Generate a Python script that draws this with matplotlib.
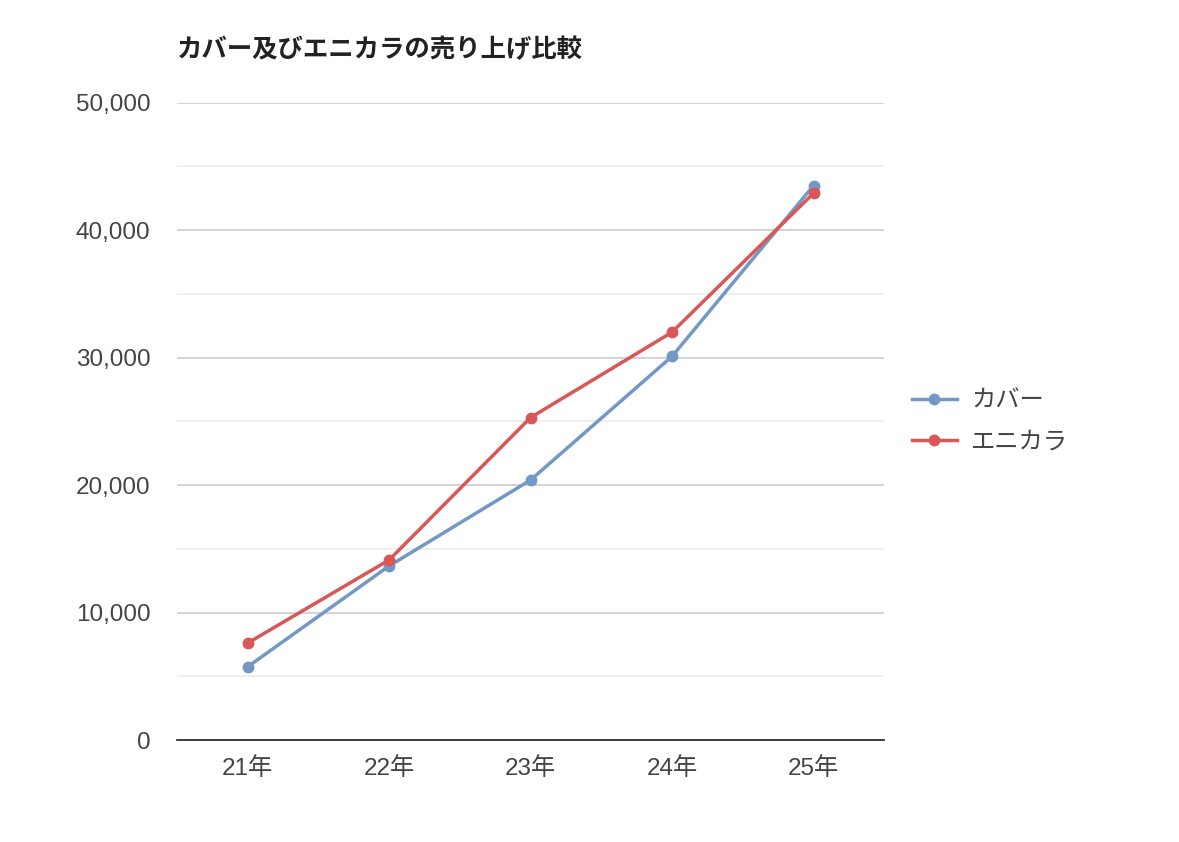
import matplotlib.pyplot as plt
from matplotlib.ticker import FuncFormatter, MultipleLocator

plt.rcParams['font.family'] = ['Liberation Sans', 'Noto Sans CJK JP', 'DejaVu Sans']

years = ["21年", "22年", "23年", "24年", "25年"]
cover = [5750, 13660, 20400, 30100, 43500]
enikara = [7610, 14130, 25300, 32000, 42900]

blue = "#7398C5"
red = "#D95757"

fig = plt.figure(figsize=(11.79, 8.42), dpi=100)
ax = fig.add_axes([0.150, 0.121, 0.600, 0.757])

x = range(len(years))
ax.plot(x, cover, color=blue, lw=2.5, marker="o", ms=7.5, label="カバー", zorder=3)
ax.plot(x, enikara, color=red, lw=2.5, marker="o", ms=7.5, label="エニカラ", zorder=4)

ax.set_xlim(-0.5, len(years) - 0.5)
ax.set_ylim(0, 50000)
ax.set_xticks(list(x))
ax.set_xticklabels(years)
ax.yaxis.set_major_locator(MultipleLocator(10000))
ax.yaxis.set_minor_locator(MultipleLocator(5000))
ax.yaxis.set_major_formatter(FuncFormatter(lambda v, p: f"{int(v):,}"))

ax.grid(axis="y", which="major", color="#cccccc", lw=1.2)
ax.grid(axis="y", which="minor", color="#ececec", lw=1.2)
ax.set_axisbelow(True)

for s in ["top", "right", "left"]:
    ax.spines[s].set_visible(False)
ax.spines["bottom"].set_color("#333333")
ax.spines["bottom"].set_linewidth(1.3)

ax.tick_params(axis="both", which="both", length=0, labelsize=17.5, colors="#444444")
ax.tick_params(axis="y", pad=19)
ax.tick_params(axis="x", pad=12)

fig.text(0.150, 0.941, "カバー及びエニカラの売り上げ比較", fontsize=18.3,
         fontweight="bold", color="#222222", va="center",
         family=['Noto Sans CJK JP', 'DejaVu Sans'])

leg = ax.legend(loc="center left", bbox_to_anchor=(1.025, 0.499), frameon=False,
                fontsize=17.5, handlelength=1.85, labelspacing=0.75,
                handletextpad=0.6, borderaxespad=0)
for t in leg.get_texts():
    t.set_color("#444444")

fig.savefig("out.png", dpi=100)
